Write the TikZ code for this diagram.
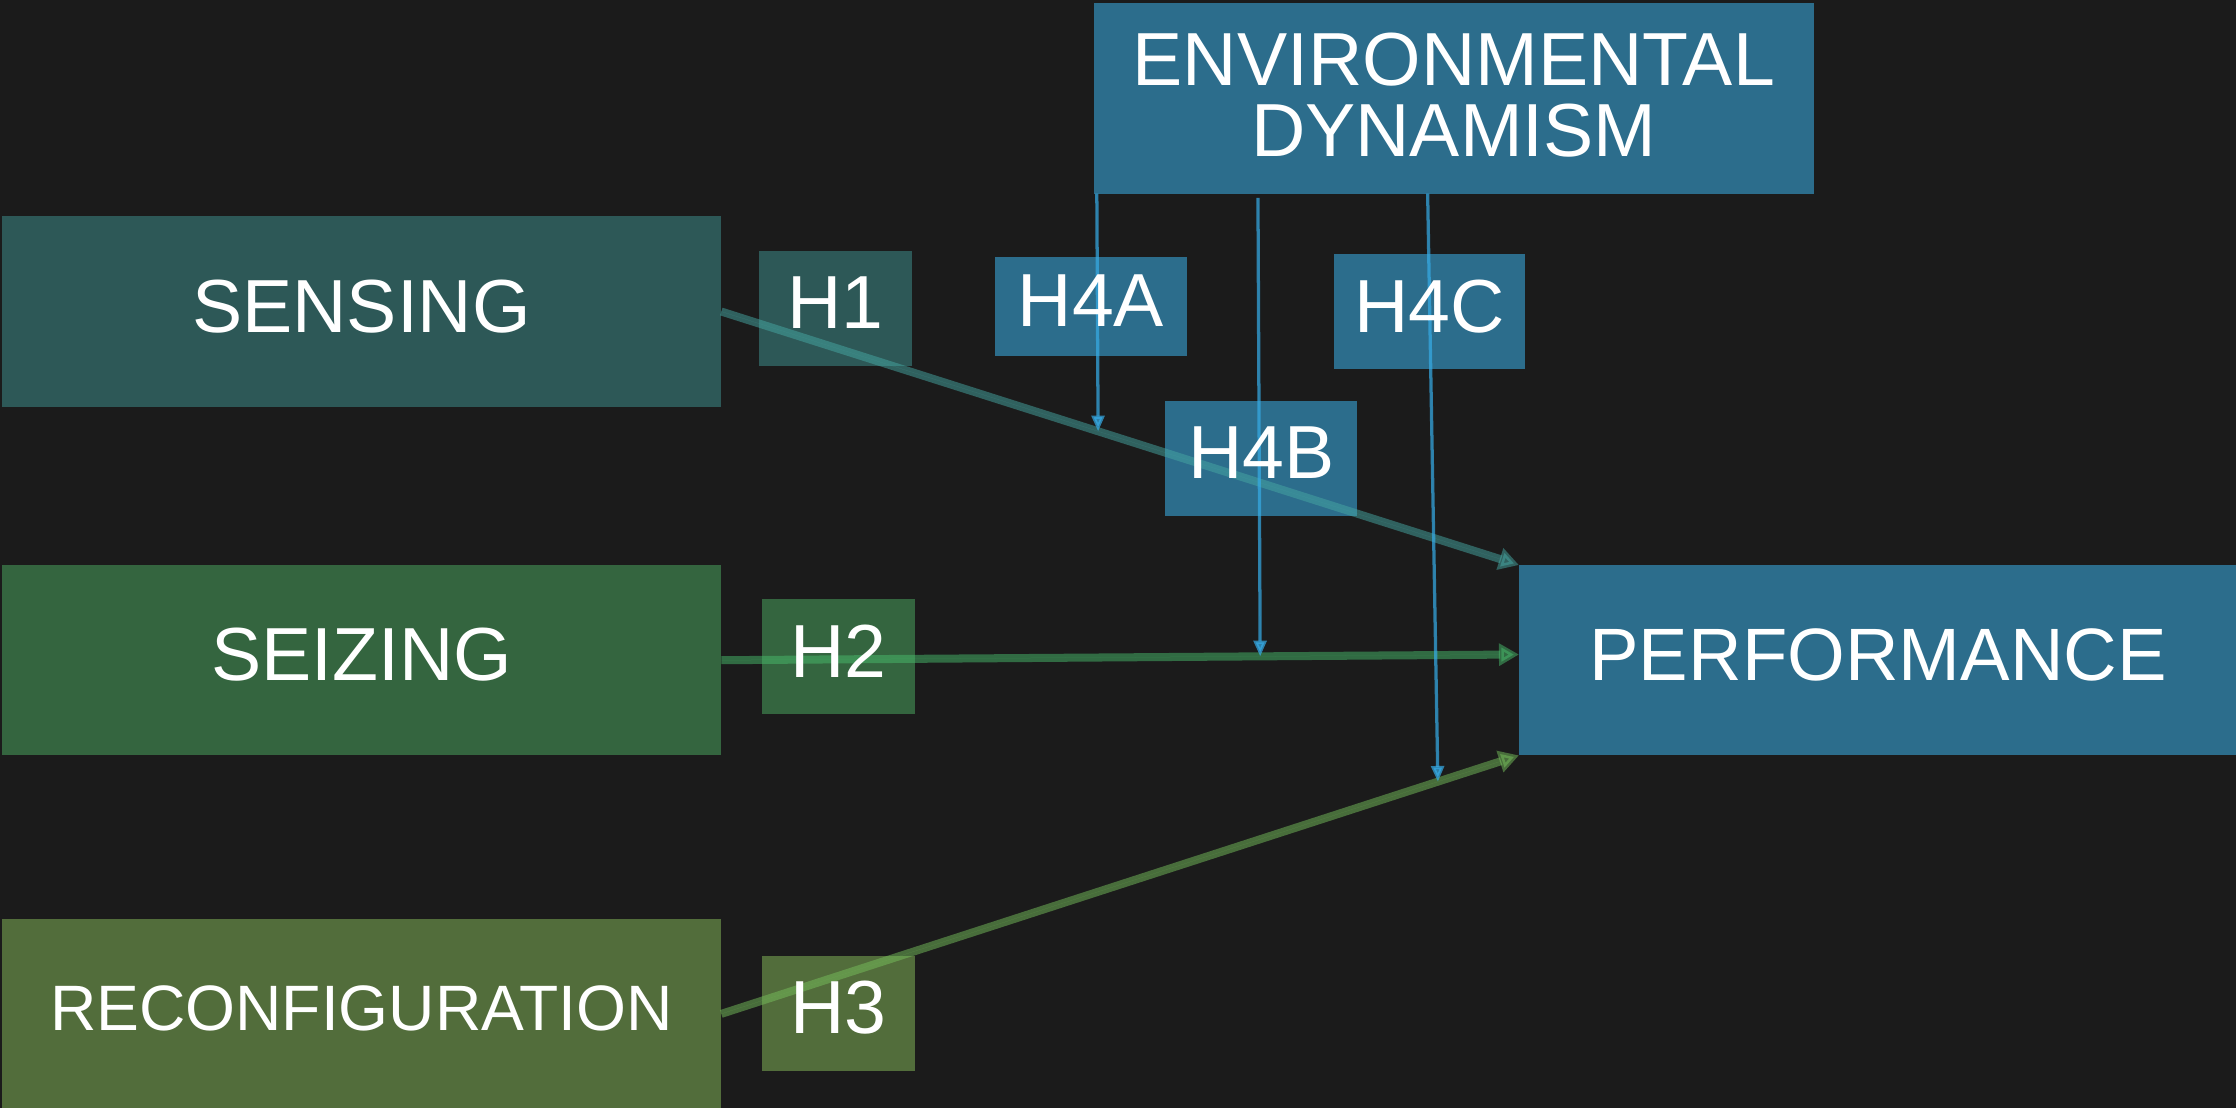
\documentclass[tikz,border=0pt]{standalone}
\usepackage{fontspec}
\setmainfont{Liberation Sans}
\usetikzlibrary{arrows.meta,calc}
\pgfdeclarelayer{bg}
\pgfdeclarelayer{mid}
\pgfsetlayers{bg,mid,main}
\definecolor{bgdark}{HTML}{1B1B1B}
\definecolor{cSens}{HTML}{2D5857}
\definecolor{cSez}{HTML}{34653F}
\definecolor{cRec}{HTML}{526D3B}
\definecolor{cBlue}{HTML}{2C6D8C}
\definecolor{lSens}{HTML}{46A8A3}
\definecolor{lSez}{HTML}{48BC6B}
\definecolor{lRec}{HTML}{76BF5B}
\definecolor{lBlue}{HTML}{36ACE7}
\begin{document}
\begin{tikzpicture}[x=0.01cm,y=0.01cm,
  lbl/.style={text=white, inner sep=0pt, align=center, text depth=2.3pt, font=\fontsize{15}{14.2}\selectfont},
  bigbox/.style={lbl, minimum width=5.03cm, minimum height=1.32cm},
  hbox/.style={lbl, minimum width=1.06cm, minimum height=0.79cm},
  hwbox/.style={lbl, minimum width=1.33cm, minimum height=0.79cm},
  mainarrow/.style={line width=1.6pt, opacity=0.5, -{Triangle[length=0.14cm,width=0.15cm]}},
  modarrow/.style={line width=0.65pt, draw=lBlue, fill=lBlue, opacity=0.7, -{Triangle[length=0.11cm,width=0.09cm]}}]
\useasboundingbox (0,0) rectangle (1568,777);
% labelled nodes
\node[bigbox] (sens) at (253.5,558.5) {SENSING};
\node[bigbox] (sez) at (253.5,314) {SEIZING};
\node[bigbox, font=\fontsize{12.8}{14}\selectfont] (rec) at (253.5,66) {RECONFIGURATION};
\node[bigbox, minimum width=5.02cm, font=\fontsize{14.8}{14}\selectfont] (perf) at (1317,314) {PERFORMANCE};
\node[bigbox, text depth=1.6pt] (env) at (1019.5,708) {ENVIRONMENTAL\\DYNAMISM};
\node[hbox] (h1) at (586,560.5) {H1};
\node[hbox] (h2) at (588,316.5) {H2};
\node[hbox] (h3) at (588,66.5) {H3};
\node[hwbox, minimum height=0.68cm] (h4a) at (765,562) {H4A};
\node[hwbox] (h4c) at (1002.5,558.5) {H4C};
\node[hwbox] (h4b) at (884.5,455.5) {H4B};
% fills
\begin{pgfonlayer}{bg}
\fill[bgdark] (0,0) rectangle (1568,777);
\foreach \n/\c in {sens/cSens,h1/cSens,sez/cSez,h2/cSez,rec/cRec,h3/cRec,perf/cBlue,env/cBlue,h4a/cBlue,h4b/cBlue,h4c/cBlue}
  \fill[\c] (\n.south west) rectangle (\n.north east);
\end{pgfonlayer}
% connectors
\begin{pgfonlayer}{mid}
\coordinate (sezend) at ($(perf.west)+(0,4)$);
\draw[mainarrow, draw=lSens, fill=lSens] (sens.east) -- (perf.north west);
\draw[mainarrow, draw=lSez, fill=lSez] (sez.east) -- (sezend);
\draw[mainarrow, draw=lRec, fill=lRec] (rec.east) -- (perf.south west);
\coordinate (m1) at ($(sens.east)!0.4724!(perf.north west)$);
\coordinate (m2) at ($(sez.east)!0.6756!(sezend)$);
\coordinate (m3) at ($(rec.east)!0.8984!(perf.south west)$);
\draw[modarrow] ($(env.south west)+(2,0)$) -- (m1);
\draw[modarrow] ($(env.south west)+(115,-3)$) -- (m2);
\draw[modarrow] ($(env.south west)+(234,0)$) -- (m3);
\end{pgfonlayer}
\end{tikzpicture}
\end{document}
